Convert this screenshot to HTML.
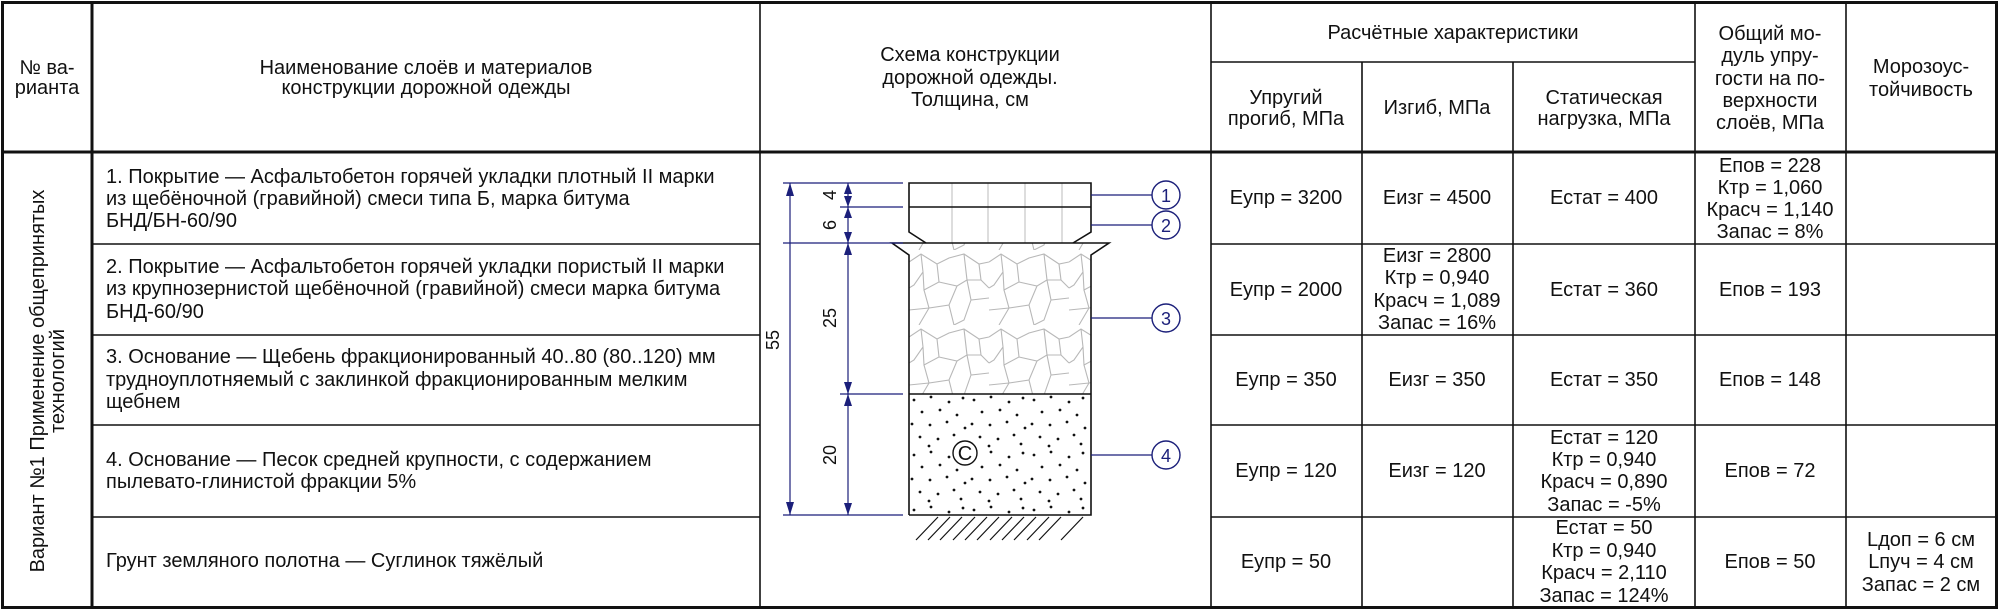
<!DOCTYPE html>
<html><head><meta charset="utf-8"><style>
html,body{margin:0;padding:0;background:#fff;}
svg{display:block;}
text{font-family:"Liberation Sans",Arial,sans-serif;font-size:20px;fill:#111;dominant-baseline:central;}
.c{text-anchor:middle;}
.n{fill:#1b1f7a;font-size:18px;}
</style></head><body>
<svg width="2000" height="610" viewBox="0 0 2000 610" xmlns="http://www.w3.org/2000/svg">
<defs>
<pattern id="crack" x="909" y="250" width="80" height="75" patternUnits="userSpaceOnUse">
<path d="M0,12 L12,4 L28,14 L40,8 L55,4 L70,14 L80,12 M12,4 L14,22 L5,35 L0,38 M28,14 L30,32 L15,40 L14,22 M30,32 L48,36 L58,30 L55,4 M58,30 L62,50 L80,48 M48,36 L40,55 L20,58 L15,40 M40,55 L45,75 M62,50 L55,70 L45,75 M20,58 L10,75 M0,60 L20,58 M70,14 L72,30 L58,30 M72,30 L80,38" fill="none" stroke="#b8b8b8" stroke-width="1.1"/>
</pattern>
<pattern id="dots" x="909" y="394" width="60" height="55" patternUnits="userSpaceOnUse">
<g fill="#111">
<circle cx="5" cy="6" r="1.4"/><circle cx="22" cy="3" r="1.4"/><circle cx="40" cy="8" r="1.4"/><circle cx="54" cy="4" r="1.4"/>
<circle cx="13" cy="18" r="1.4"/><circle cx="31" cy="16" r="1.4"/><circle cx="48" cy="21" r="1.4"/>
<circle cx="3" cy="30" r="1.4"/><circle cx="21" cy="31" r="1.4"/><circle cx="38" cy="28" r="1.4"/><circle cx="56" cy="34" r="1.4"/>
<circle cx="11" cy="43" r="1.4"/><circle cx="29" cy="45" r="1.4"/><circle cx="45" cy="41" r="1.4"/>
<circle cx="20" cy="52" r="1.4"/><circle cx="52" cy="50" r="1.4"/>
</g>
</pattern>
</defs>

<g stroke="#111" fill="none">
<rect x="2.5" y="2.5" width="1994" height="605" stroke-width="3"/>
<line x1="92" y1="2" x2="92" y2="608" stroke-width="3"/>
<line x1="2" y1="152" x2="1997" y2="152" stroke-width="3"/>
<g stroke-width="1.6">
<line x1="760" y1="2" x2="760" y2="608"/>
<line x1="1211" y1="2" x2="1211" y2="608"/>
<line x1="1695" y1="2" x2="1695" y2="608"/>
<line x1="1846" y1="2" x2="1846" y2="608"/>
<line x1="1362" y1="62" x2="1362" y2="608"/>
<line x1="1513" y1="62" x2="1513" y2="608"/>
<line x1="1211" y1="62" x2="1695" y2="62"/>
<line x1="92" y1="244" x2="760" y2="244"/><line x1="1211" y1="244" x2="1997" y2="244"/>
<line x1="92" y1="335" x2="760" y2="335"/><line x1="1211" y1="335" x2="1997" y2="335"/>
<line x1="92" y1="425" x2="760" y2="425"/><line x1="1211" y1="425" x2="1997" y2="425"/>
<line x1="92" y1="517" x2="760" y2="517"/><line x1="1211" y1="517" x2="1997" y2="517"/>
</g>
</g>

<text class="c" x="47" y="68">№ ва-</text>
<text class="c" x="47" y="88">рианта</text>
<text class="c" x="426" y="68">Наименование слоёв и материалов</text>
<text class="c" x="426" y="88">конструкции дорожной одежды</text>
<text class="c" x="970" y="55">Схема конструкции</text>
<text class="c" x="970" y="78">дорожной одежды.</text>
<text class="c" x="970" y="100">Толщина, см</text>
<text class="c" x="1453" y="33">Расчётные характеристики</text>
<text class="c" x="1286" y="98">Упругий</text>
<text class="c" x="1286" y="119">прогиб, МПа</text>
<text class="c" x="1437" y="108">Изгиб, МПа</text>
<text class="c" x="1604" y="98">Статическая</text>
<text class="c" x="1604" y="119">нагрузка, МПа</text>
<text class="c" x="1770" y="34">Общий мо-</text>
<text class="c" x="1770" y="56">дуль упру-</text>
<text class="c" x="1770" y="79">гости на по-</text>
<text class="c" x="1770" y="101">верхности</text>
<text class="c" x="1770" y="123">слоёв, МПа</text>
<text class="c" x="1921" y="67">Морозоус-</text>
<text class="c" x="1921" y="90">тойчивость</text>

<g transform="translate(38,381) rotate(-90)"><text class="c" x="0" y="0">Вариант №1 Применение общепринятых</text></g>
<g transform="translate(58,381) rotate(-90)"><text class="c" x="0" y="0">технологий</text></g>

<text x="106" y="177">1. Покрытие — Асфальтобетон горячей укладки плотный II марки</text>
<text x="106" y="199">из щебёночной (гравийной) смеси типа Б, марка битума</text>
<text x="106" y="221">БНД/БН-60/90</text>
<text x="106" y="267">2. Покрытие — Асфальтобетон горячей укладки пористый II марки</text>
<text x="106" y="289">из крупнозернистой щебёночной (гравийной) смеси марка битума</text>
<text x="106" y="312">БНД-60/90</text>
<text x="106" y="357">3. Основание — Щебень фракционированный 40..80 (80..120) мм</text>
<text x="106" y="380">трудноуплотняемый с заклинкой фракционированным мелким</text>
<text x="106" y="402">щебнем</text>
<text x="106" y="460">4. Основание — Песок средней крупности, с содержанием</text>
<text x="106" y="482">пылевато-глинистой фракции 5%</text>
<text x="106" y="561">Грунт земляного полотна — Суглинок тяжёлый</text>

<text class="c" x="1286" y="198">Еупр = 3200</text>
<text class="c" x="1437" y="198">Еизг = 4500</text>
<text class="c" x="1604" y="198">Естат = 400</text>
<text class="c" x="1770" y="166">Епов = 228</text>
<text class="c" x="1770" y="188">Ктр = 1,060</text>
<text class="c" x="1770" y="210">Красч = 1,140</text>
<text class="c" x="1770" y="232">Запас = 8%</text>

<text class="c" x="1286" y="290">Еупр = 2000</text>
<text class="c" x="1437" y="256">Еизг = 2800</text>
<text class="c" x="1437" y="278">Ктр = 0,940</text>
<text class="c" x="1437" y="301">Красч = 1,089</text>
<text class="c" x="1437" y="323">Запас = 16%</text>
<text class="c" x="1604" y="290">Естат = 360</text>
<text class="c" x="1770" y="290">Епов = 193</text>

<text class="c" x="1286" y="380">Еупр = 350</text>
<text class="c" x="1437" y="380">Еизг = 350</text>
<text class="c" x="1604" y="380">Естат = 350</text>
<text class="c" x="1770" y="380">Епов = 148</text>

<text class="c" x="1286" y="471">Еупр = 120</text>
<text class="c" x="1437" y="471">Еизг = 120</text>
<text class="c" x="1604" y="438">Естат = 120</text>
<text class="c" x="1604" y="460">Ктр = 0,940</text>
<text class="c" x="1604" y="482">Красч = 0,890</text>
<text class="c" x="1604" y="505">Запас = -5%</text>
<text class="c" x="1770" y="471">Епов = 72</text>

<text class="c" x="1286" y="562">Еупр = 50</text>
<text class="c" x="1604" y="528">Естат = 50</text>
<text class="c" x="1604" y="551">Ктр = 0,940</text>
<text class="c" x="1604" y="573">Красч = 2,110</text>
<text class="c" x="1604" y="596">Запас = 124%</text>
<text class="c" x="1770" y="562">Епов = 50</text>
<text class="c" x="1921" y="540">Lдоп = 6 см</text>
<text class="c" x="1921" y="562">Lпуч = 4 см</text>
<text class="c" x="1921" y="585">Запас = 2 см</text>

<g stroke="#bbb" stroke-width="1">
<line x1="952" y1="183" x2="952" y2="243"/><line x1="988" y1="183" x2="988" y2="243"/>
<line x1="1025" y1="183" x2="1025" y2="243"/><line x1="1062" y1="183" x2="1062" y2="243"/>
</g>
<polygon points="892,243 1109,243 1091,255 1091,394 909,394 909,255" fill="url(#crack)"/>
<rect x="909" y="394" width="182" height="121" fill="url(#dots)"/>
<g stroke="#111" stroke-width="1.6" fill="none">
<polyline points="926,243 909,232 909,183 1091,183 1091,232 1073,243"/>
<line x1="909" y1="207" x2="1091" y2="207"/>
<polyline points="909,515 909,255 892,243 1109,243 1091,255 1091,515 909,515"/>
<line x1="909" y1="394" x2="1091" y2="394"/>
</g>
<g stroke="#111" stroke-width="1.2">
<line x1="916" y1="540" x2="938" y2="517"/><line x1="928" y1="540" x2="950" y2="517"/><line x1="940" y1="540" x2="962" y2="517"/>
<line x1="953" y1="540" x2="975" y2="517"/><line x1="965" y1="540" x2="987" y2="517"/><line x1="977" y1="540" x2="999" y2="517"/>
<line x1="990" y1="540" x2="1012" y2="517"/><line x1="1002" y1="540" x2="1024" y2="517"/><line x1="1014" y1="540" x2="1036" y2="517"/>
<line x1="1027" y1="540" x2="1049" y2="517"/><line x1="1039" y1="540" x2="1061" y2="517"/><line x1="1061" y1="540" x2="1083" y2="517"/>
</g>
<circle cx="965" cy="453" r="12" fill="#fff" stroke="#111" stroke-width="1.4"/>
<text class="c" x="965" y="454" style="font-size:20px">C</text>

<g stroke="#1b1f7a" stroke-width="1.2">
<line x1="783" y1="183" x2="903" y2="183"/><line x1="840" y1="207" x2="903" y2="207"/>
<line x1="783" y1="243" x2="903" y2="243"/><line x1="840" y1="394" x2="903" y2="394"/>
<line x1="783" y1="515" x2="903" y2="515"/>
<line x1="790" y1="183" x2="790" y2="515"/>
<line x1="848" y1="183" x2="848" y2="515"/>
<line x1="1091" y1="195" x2="1152" y2="195"/><line x1="1091" y1="225" x2="1152" y2="225"/>
<line x1="1091" y1="318" x2="1152" y2="318"/><line x1="1091" y1="455" x2="1152" y2="455"/>
</g>
<g fill="#1b1f7a">
<polygon points="790,183 786,196 794,196"/><polygon points="790,515 786,502 794,502"/>
<polygon points="848,183 844,194 852,194"/><polygon points="848,207 844,196 852,196"/>
<polygon points="848,207 844,218 852,218"/><polygon points="848,243 844,232 852,232"/>
<polygon points="848,243 844,255 852,255"/><polygon points="848,394 844,382 852,382"/>
<polygon points="848,394 844,406 852,406"/><polygon points="848,515 844,503 852,503"/>
</g>
<g transform="translate(773,340) rotate(-90)"><text class="c" style="font-size:18px">55</text></g>
<g transform="translate(830,195) rotate(-90)"><text class="c" style="font-size:18px">4</text></g>
<g transform="translate(830,225) rotate(-90)"><text class="c" style="font-size:18px">6</text></g>
<g transform="translate(830,318) rotate(-90)"><text class="c" style="font-size:18px">25</text></g>
<g transform="translate(830,455) rotate(-90)"><text class="c" style="font-size:18px">20</text></g>

<g fill="#fff" stroke="#1b1f7a" stroke-width="1.4">
<circle cx="1166" cy="195" r="14"/><circle cx="1166" cy="225" r="14"/>
<circle cx="1166" cy="318" r="14"/><circle cx="1166" cy="455" r="14"/>
</g>
<text class="c n" x="1166" y="196">1</text>
<text class="c n" x="1166" y="226">2</text>
<text class="c n" x="1166" y="319">3</text>
<text class="c n" x="1166" y="456">4</text>
</svg>
</body></html>
